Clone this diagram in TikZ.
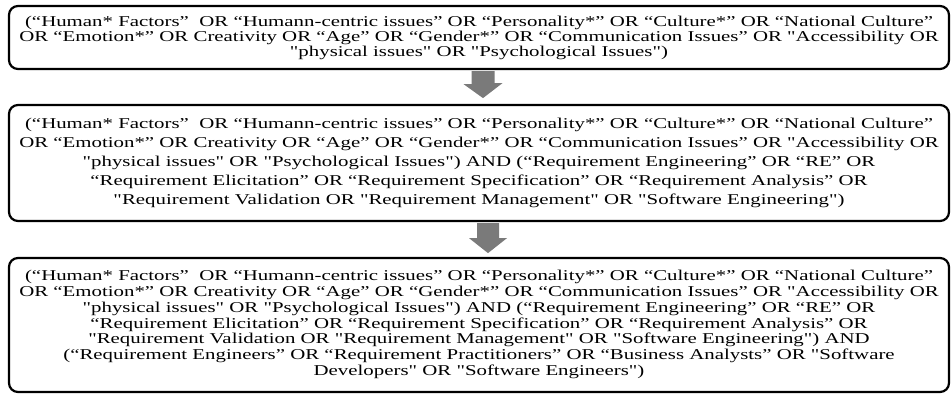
\documentclass[tikz,border=0pt]{standalone}
\usepackage{fontspec}
\setmainfont{Liberation Serif}[Ligatures=TeXOff, FakeStretch=1.39]
\usetikzlibrary{calc}
\definecolor{arrgray}{RGB}{122,122,122}
\tikzset{
  qbox/.style={draw, line width=2.2pt, rounded corners=9pt, minimum width=940pt,
    align=center, inner sep=0pt},
  blockarrow/.style={fill=arrgray, draw=none}
}
\setlength{\tabcolsep}{0pt}
\begin{document}
\begin{tikzpicture}[x=1pt,y=1pt]
\useasboundingbox (0,0) rectangle (951,-394);
\node[qbox, minimum height=63pt, font=\fontsize{15}{15}\selectfont] (b1) at (479,-37.5) {%
(“Human* Factors”\ \ OR “Humann-centric issues” OR “Personality*” OR “Culture*” OR “National Culture”\\
OR “Emotion*” OR Creativity OR “Age” OR “Gender*” OR “Communication Issues” OR "Accessibility OR\\
"physical issues" OR "Psychological Issues")};
\node[qbox, minimum height=116pt, font=\fontsize{15}{19}\selectfont] (b2) at (479,-163) {%
(“Human* Factors”\ \ OR “Humann-centric issues” OR “Personality*” OR “Culture*” OR “National Culture”\\
OR “Emotion*” OR Creativity OR “Age” OR “Gender*” OR “Communication Issues” OR "Accessibility OR\\
"physical issues" OR "Psychological Issues") AND (“Requirement Engineering” OR “RE” OR\\
“Requirement Elicitation” OR “Requirement Specification” OR “Requirement Analysis” OR\\
"Requirement Validation OR "Requirement Management" OR "Software Engineering")};
\node[qbox, minimum height=134pt, font=\fontsize{15}{15.8}\selectfont] (b3) at (479,-325) {%
\raisebox{5pt}{\begin{tabular}{c}
(“Human* Factors”\ \ OR “Humann-centric issues” OR “Personality*” OR “Culture*” OR “National Culture”\\
OR “Emotion*” OR Creativity OR “Age” OR “Gender*” OR “Communication Issues” OR "Accessibility OR\\
"physical issues" OR "Psychological Issues") AND (“Requirement Engineering” OR “RE” OR\\
“Requirement Elicitation” OR “Requirement Specification” OR “Requirement Analysis” OR\\
"Requirement Validation OR "Requirement Management" OR "Software Engineering") AND\\
(“Requirement Engineers” OR “Requirement Practitioners” OR “Business Analysts” OR "Software\\
Developers" OR "Software Engineers")
\end{tabular}}};
\coordinate (a1) at ($(b1.south)+(4,-1)$);
\coordinate (a2) at ($(b2.south)+(9,-1)$);
\fill[blockarrow] (a1) ++(-11.5,0) -- ++(23,0) -- ++(0,-12) -- ++(8,0) -- ($(a1)+(0,-27)$) -- ++(-19.5,14) -- ++(8,0) -- cycle;
\fill[blockarrow] (a2) ++(-11,0) -- ++(22,0) -- ++(0,-15) -- ++(8,0) -- ($(a2)+(0,-30)$) -- ++(-19,15) -- ++(8,0) -- cycle;
\end{tikzpicture}
\end{document}
